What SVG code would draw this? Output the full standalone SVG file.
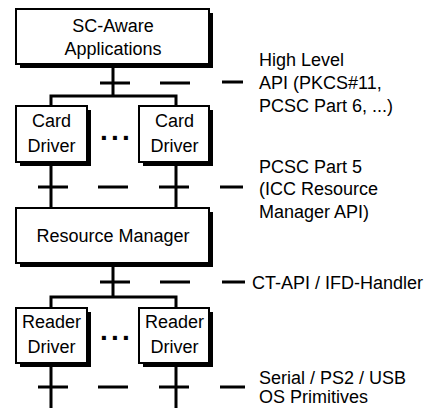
<svg xmlns="http://www.w3.org/2000/svg" width="437" height="408" viewBox="0 0 437 408">
<style>
.box{fill:#fff;stroke:#000;stroke-width:2}
.sh{fill:#000}
.t{font-family:"Liberation Sans",Arial,sans-serif;font-size:18px;fill:#000}
.m{text-anchor:middle}
.c{stroke:#000;stroke-width:3;fill:none}
.dots{font-family:"Liberation Sans",Arial,sans-serif;font-size:28px;font-weight:bold;letter-spacing:3.2px;fill:#000}
</style>
<rect width="437" height="408" fill="#fff"/>
<g id="connectors">
<path class="c" d="M113 64V96M51 107V96H176V107"/>
<path class="c" d="M100 83H130M160 83H190M222 82H243"/>
<path class="c" d="M51 162V208M176 163V208"/>
<path class="c" d="M38 187H68M98 187H128M159 187H189M220 187H243"/>
<path class="c" d="M113 263V297M51 308V297H176V308"/>
<path class="c" d="M100 282H130M160 282H190M222 282H245"/>
<path class="c" d="M51 363V408M176 363V408"/>
<path class="c" d="M38 387H68M98 387H128M159 387H189M220 387H245"/>
</g>
<g id="sc-aware">
<rect class="sh" x="20" y="13" width="193" height="55"/>
<rect class="box" x="16" y="9" width="193" height="55"/>
<text class="t m" x="113" y="32">SC-Aware</text>
<text class="t m" x="113" y="55">Applications</text>
</g>
<g id="card-driver-1">
<rect class="sh" x="20" y="110" width="71" height="56"/>
<rect class="box" x="16" y="106" width="71" height="56"/>
<text class="t m" x="51.5" y="127">Card</text>
<text class="t m" x="51.5" y="152">Driver</text>
</g>
<g id="card-dots"><text class="dots" x="100" y="140">...</text></g>
<g id="card-driver-2">
<rect class="sh" x="143" y="110" width="70" height="56"/>
<rect class="box" x="139" y="106" width="70" height="56"/>
<text class="t m" x="174.5" y="127">Card</text>
<text class="t m" x="174.5" y="152">Driver</text>
</g>
<g id="resource-manager">
<rect class="sh" x="20" y="212" width="193" height="55"/>
<rect class="box" x="16" y="208" width="193" height="55"/>
<text class="t m" x="113" y="242">Resource Manager</text>
</g>
<g id="reader-driver-1">
<rect class="sh" x="20" y="312" width="71" height="55"/>
<rect class="box" x="16" y="308" width="71" height="55"/>
<text class="t m" x="51.5" y="328">Reader</text>
<text class="t m" x="51.5" y="353">Driver</text>
</g>
<g id="reader-dots"><text class="dots" x="100" y="340">...</text></g>
<g id="reader-driver-2">
<rect class="sh" x="143" y="312" width="70" height="55"/>
<rect class="box" x="139" y="308" width="70" height="55"/>
<text class="t m" x="174.5" y="328">Reader</text>
<text class="t m" x="174.5" y="353">Driver</text>
</g>
<g id="labels">
<text class="t" x="259" y="66">High Level</text>
<text class="t" x="259" y="89">API (PKCS#11,</text>
<text class="t" x="259" y="112">PCSC Part 6, ...)</text>
<text class="t" x="259" y="173">PCSC Part 5</text>
<text class="t" x="259" y="195">(ICC Resource</text>
<text class="t" x="259" y="218">Manager API)</text>
<text class="t" x="252" y="289">CT-API / IFD-Handler</text>
<text class="t" x="259" y="384">Serial / PS2 / USB</text>
<text class="t" x="259" y="403">OS Primitives</text>
</g>
</svg>
